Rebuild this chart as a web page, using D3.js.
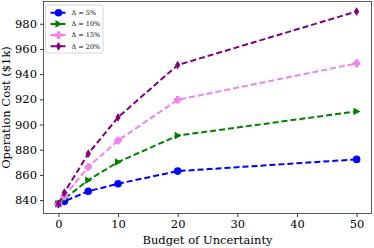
<!DOCTYPE html>
<html>
<head>
<meta charset="utf-8">
<script src="https://cdn.jsdelivr.net/npm/d3@7"></script>
<style>
  body { margin: 0; background: #fff; }
  svg text { font-family: "DejaVu Serif", serif; fill: #000; }
</style>
</head>
<body>
<div id="chart"></div>
<script>
const budgets = [0, 1, 5, 10, 20, 50];
const labels = ['\u0394 = 5%', '\u0394 = 10%', '\u0394 = 15%', '\u0394 = 20%'];
const delta5 = [837, 839, 847, 853, 863, 872.3];
const delta10 = [837, 841, 855.8, 870.2, 891.2, 910.4];
const delta15 = [837, 843, 866.3, 887.3, 919.6, 948.5];
const delta20 = [837, 846, 876.8, 905.7, 947.2, 989.7];
const xTicks = [0, 10, 20, 30, 40, 50];
const yTicks = [840, 860, 880, 900, 920, 940, 960, 980];

const series = [
  { name: labels[0], values: delta5, color: 'blue', marker: 'circle' },
  { name: labels[1], values: delta10, color: 'green', marker: 'tri' },
  { name: labels[2], values: delta15, color: 'violet', marker: 'plus' },
  { name: labels[3], values: delta20, color: 'purple', marker: 'diamond' }
];

const w = 374, h = 248;
const margin = { left: 43.5, right: 2.5, top: 1.5, bottom: 34.5 };

const svg = d3.select('#chart').append('svg')
  .attr('width', w)
  .attr('height', h);

const xScale = d3.scaleLinear()
  .domain([-2.5, 52.5])
  .range([margin.left, w - margin.right]);
const yScale = d3.scaleLinear()
  .domain([829.35, 997.65])
  .range([h - margin.bottom, margin.top]);

// axes
svg.append('g')
  .attr('transform', `translate(0, ${h - margin.bottom})`)
  .call(d3.axisBottom(xScale).tickValues(xTicks).tickSize(3.5).tickPadding(3))
  .call(g => g.select('.domain').remove())
  .selectAll('text').attr('font-size', 11.5);

svg.append('g')
  .attr('transform', `translate(${margin.left}, 0)`)
  .call(d3.axisLeft(yScale).tickValues(yTicks).tickSize(3.5).tickPadding(3))
  .call(g => g.select('.domain').remove())
  .selectAll('text').attr('font-size', 11.5);

svg.selectAll('.tick line').attr('stroke', '#000').attr('stroke-width', 0.8);

svg.append('rect')
  .attr('x', margin.left)
  .attr('y', margin.top)
  .attr('width', w - margin.left - margin.right)
  .attr('height', h - margin.top - margin.bottom)
  .attr('fill', 'none')
  .attr('stroke', '#333')
  .attr('stroke-width', 0.8);

function markerPath(type, s) {
  if (type === 'circle') return d3.symbol(d3.symbolCircle, s * s * Math.PI)();
  if (type === 'tri') return `M${-s * 0.8},${-s}L${s},0L${-s * 0.8},${s}Z`;
  if (type === 'plus') {
    const a = s, b = s * 0.45;
    return `M${-b},${-a}H${b}V${-b}H${a}V${b}H${b}V${a}H${-b}V${b}H${-a}V${-b}H${-b}Z`;
  }
  return `M0,${-s * 1.15}L${s * 0.7},0L0,${s * 1.15}L${-s * 0.7},0Z`;
}

const line = d3.line()
  .x((d, i) => xScale(budgets[i]))
  .y(d => yScale(d));

series.forEach(s => {
  svg.append('path')
    .datum(s.values)
    .attr('d', line)
    .attr('fill', 'none')
    .attr('stroke', s.color)
    .attr('stroke-width', 2)
    .attr('stroke-dasharray', '6,3');

  svg.selectAll(null)
    .data(s.values)
    .enter()
    .append('path')
    .attr('transform', (d, i) => `translate(${xScale(budgets[i])},${yScale(d)})`)
    .attr('d', markerPath(s.marker, 3.8))
    .attr('fill', s.color);
});

// legend
const lg = svg.append('g').attr('transform', 'translate(45.5, 5)');
lg.append('rect')
  .attr('width', 57.5)
  .attr('height', 48)
  .attr('rx', 2)
  .attr('fill', '#fff')
  .attr('fill-opacity', 0.8)
  .attr('stroke', '#ccc')
  .attr('stroke-width', 0.8);

series.forEach((s, i) => {
  const yy = 7.7 + i * 11.2;
  lg.append('line')
    .attr('x1', 5).attr('x2', 21)
    .attr('y1', yy).attr('y2', yy)
    .attr('stroke', s.color)
    .attr('stroke-width', 2)
    .attr('stroke-dasharray', '6,3');
  lg.append('path')
    .attr('transform', `translate(13, ${yy})`)
    .attr('d', markerPath(s.marker, 3.8))
    .attr('fill', s.color);
  lg.append('text')
    .attr('x', 26)
    .attr('y', yy)
    .attr('dy', '0.35em')
    .attr('font-size', 6.5)
    .text(s.name);
});

// axis labels
svg.append('text')
  .attr('x', (margin.left + w - margin.right) / 2)
  .attr('y', 244)
  .attr('text-anchor', 'middle')
  .attr('font-size', 11.5)
  .text('Budget of Uncertainty');

svg.append('text')
  .attr('transform', `translate(10, ${(margin.top + h - margin.bottom) / 2}) rotate(-90)`)
  .attr('text-anchor', 'middle')
  .attr('font-size', 11.5)
  .text('Operation Cost ($1k)');
</script>
</body>
</html>
